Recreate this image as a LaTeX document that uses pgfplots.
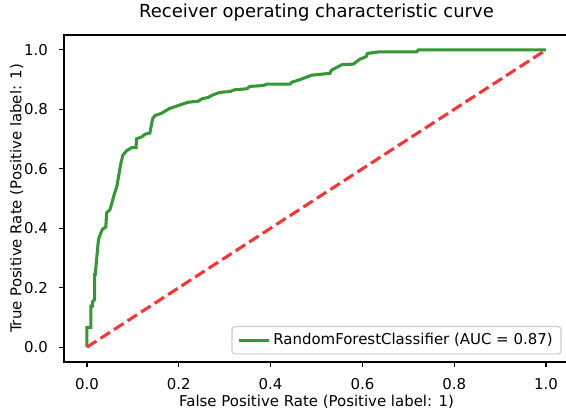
\documentclass[border=0pt]{standalone}
\usepackage{fontspec}
\setmainfont{DejaVu Sans}
\usepackage{pgfplots}
\pgfplotsset{compat=1.18}
\definecolor{rocgreen}{HTML}{339933}
\definecolor{chancered}{HTML}{FF3333}
\definecolor{legendedge}{HTML}{CCCCCC}

\begin{document}
\begin{tikzpicture}
\begin{axis}[
    name=ax,
    scale only axis,
    width=363.6bp, height=235.44bp,
    xmin=-0.05, xmax=1.05, ymin=-0.05, ymax=1.05,
    xtick={0,0.2,...,1.0}, ytick={0,0.2,...,1.0},
    tick align=outside, xtick pos=bottom, ytick pos=left,
    major tick length=3.8bp,
    every tick/.style={black, line width=0.88bp},
    axis line style={line width=0.88bp},
    font=\fontsize{10.8}{13}\selectfont,
    /pgf/number format/assume math mode=true,
    /pgf/number format/.cd, fixed, fixed zerofill, precision=1, /pgfplots/.cd,
    xticklabel style={inner sep=0pt, anchor=north, yshift=-7.6bp},
    yticklabel style={inner sep=0pt, anchor=east, xshift=-7.6bp},
    title={Receiver operating characteristic curve},
    title style={at={(axis description cs:0.5,1)}, anchor=base, yshift=6.6bp, inner sep=0pt, font=\fontsize{13}{15}\selectfont},
    xlabel={False Positive Rate (Positive label: 1)},
    ylabel={True Positive Rate (Positive label: 1)},
    xlabel style={at={(axis description cs:0.5,-0.099)}, anchor=north, inner sep=0pt},
    ylabel style={at={(axis description cs:-0.0800,0.5)}, anchor=south, inner sep=0pt},
    legend style={at={(axis description cs:1,0)}, anchor=south east, xshift=-5.4bp, yshift=5.4bp,
        draw=legendedge, line width=0.8bp, rounded corners=2.2bp, fill=white, fill opacity=0.8, text opacity=1,
        inner xsep=4bp, inner ysep=3bp, font=\fontsize{10.8}{13}\selectfont},
    legend cell align=left,
    legend image code/.code={\draw[#1] (0bp,0bp) -- (21.6bp,0bp);},
]
\addplot[rocgreen, line width=2.2bp] coordinates {
    (0,0) (0,0.066) (0.0087,0.066) (0.0087,0.138) (0.0116,0.138) (0.0116,0.152)
    (0.0167,0.160) (0.0167,0.244) (0.018,0.244) (0.021,0.294) (0.025,0.361)
    (0.030,0.384) (0.034,0.397) (0.041,0.404) (0.043,0.452) (0.050,0.462)
    (0.054,0.484) (0.060,0.517) (0.065,0.540) (0.070,0.584) (0.073,0.612)
    (0.078,0.645) (0.086,0.660) (0.097,0.671) (0.107,0.671) (0.108,0.701)
    (0.119,0.707) (0.126,0.716) (0.137,0.720) (0.143,0.768) (0.148,0.779)
    (0.163,0.787) (0.170,0.794) (0.179,0.802) (0.192,0.809) (0.203,0.815)
    (0.221,0.824) (0.242,0.827) (0.250,0.835) (0.264,0.840) (0.275,0.849)
    (0.290,0.857) (0.312,0.860) (0.322,0.866) (0.348,0.869) (0.355,0.877)
    (0.384,0.880) (0.392,0.885) (0.442,0.885) (0.446,0.891) (0.464,0.900)
    (0.490,0.915) (0.529,0.921) (0.533,0.932) (0.555,0.950) (0.580,0.952)
    (0.595,0.969) (0.608,0.977) (0.611,0.988) (0.635,0.993) (0.718,0.993)
    (0.722,1.0) (1,1)
};
\addlegendentry{RandomForestClassifier (AUC = 0.87)}
\addplot[chancered, line width=2.2bp, dash pattern=on 8.1bp off 3.5bp, forget plot] coordinates {
    (0,0) (1,1)
};
\end{axis}
\pgfresetboundingbox
\path[use as bounding box] ([shift={(-46.08bp,-33.84bp)}]ax.south west) rectangle ([shift={(361.44bp,260.64bp)}]ax.south west);
\end{tikzpicture}
\end{document}
